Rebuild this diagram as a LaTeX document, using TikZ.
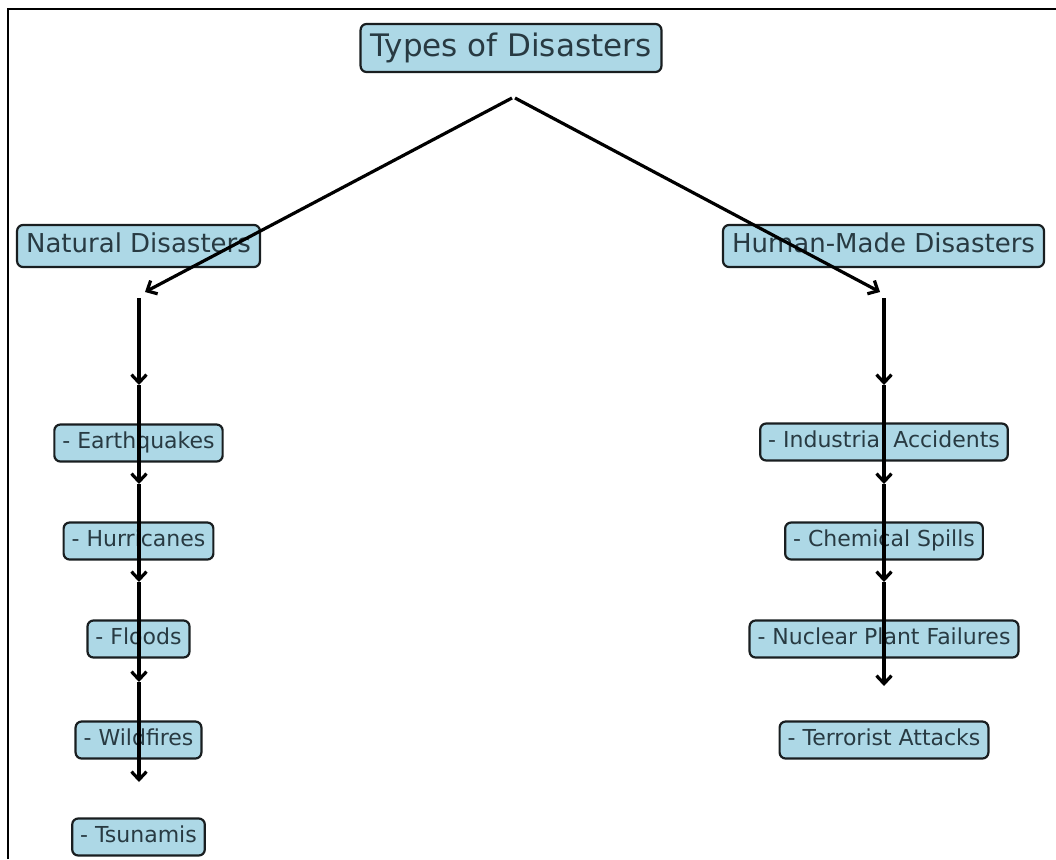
\documentclass[tikz,border=0pt]{standalone}
\usepackage{fontspec}
\setmainfont{DejaVu Sans}
\usepackage{xcolor}
\usepackage{tikz}
\usetikzlibrary{arrows.meta}
\definecolor{boxblue}{RGB}{173,216,230}
\definecolor{boxtext}{RGB}{40,58,66}
\definecolor{boxedge}{RGB}{25,30,32}

\begin{document}
\begin{tikzpicture}[x=1pt,y=-1pt,
	box/.style={draw=boxedge,fill=boxblue,text=boxtext,rounded corners=6pt,line width=2.2pt,inner ysep=0pt},
	head/.style={box,font=\fontsize{31}{37}\selectfont,minimum height=48pt,inner xsep=10pt,text height=23.5pt,text depth=7.4pt},
	group/.style={box,font=\fontsize{26}{31}\selectfont,minimum height=42pt,inner xsep=9pt,text height=19.8pt,text depth=6.2pt},
	item/.style={box,font=\fontsize{22}{26}\selectfont,minimum height=37pt,inner xsep=8pt,text height=16.7pt,text depth=5.3pt},
	link/.style={line width=3.2pt,-{Straight Barb[length=8pt,width=15pt]}}]
					\useasboundingbox (0,0) rectangle (1056,859);
					\draw[line width=2pt] (8,859) -- (8,9) -- (1056,9);
					
					\node[head] (title) at (511,48) {Types of Disasters};
					\node[group] (nat) at (138.5,246) {Natural Disasters};
					\node[group] (hum) at (883.5,246) {Human-Made Disasters};
					
					\node[item] (eq) at (138.5,443) {- Earthquakes};
					\node[item] (hu) at (138.5,541) {- Hurricanes};
					\node[item] (fl) at (138.5,639) {- Floods};
					\node[item] (wf) at (138.5,740) {- Wildfires};
					\node[item] (ts) at (138.5,837) {- Tsunamis};
					
					\node[item] (ia) at (884,442) {- Industrial Accidents};
					\node[item] (cs) at (884,541) {- Chemical Spills};
					\node[item] (np) at (884,639) {- Nuclear Plant Failures};
					\node[item] (ta) at (884,740) {- Terrorist Attacks};
					
					\coordinate (title-l) at (512,98);
					\coordinate (title-r) at (515,98);
					\coordinate (nat-in) at (145,292);
					\coordinate (hum-in) at (880,292);
					
					\coordinate (nat0) at (139,298);
					\coordinate (nat1) at (139,385);
					\coordinate (nat2) at (139,484);
					\coordinate (nat3) at (139,582);
					\coordinate (nat4) at (139,682);
					\coordinate (nat5) at (139,782);
					
					\coordinate (hum0) at (884,298);
					\coordinate (hum1) at (884,385);
					\coordinate (hum2) at (884,484);
					\coordinate (hum3) at (884,582);
					\coordinate (hum4) at (884,686);
					
					\draw[link] (title-l) -- (nat-in);
					\draw[link] (title-r) -- (hum-in);
					
					\draw[link] (nat0) -- (nat1);
					\draw[link] (nat1) -- (nat2);
					\draw[link] (nat2) -- (nat3);
					\draw[link] (nat3) -- (nat4);
					\draw[link] (nat4) -- (nat5);
					
					\draw[link] (hum0) -- (hum1);
					\draw[link] (hum1) -- (hum2);
					\draw[link] (hum2) -- (hum3);
					\draw[link] (hum3) -- (hum4);
				\end{tikzpicture}
\end{document}
